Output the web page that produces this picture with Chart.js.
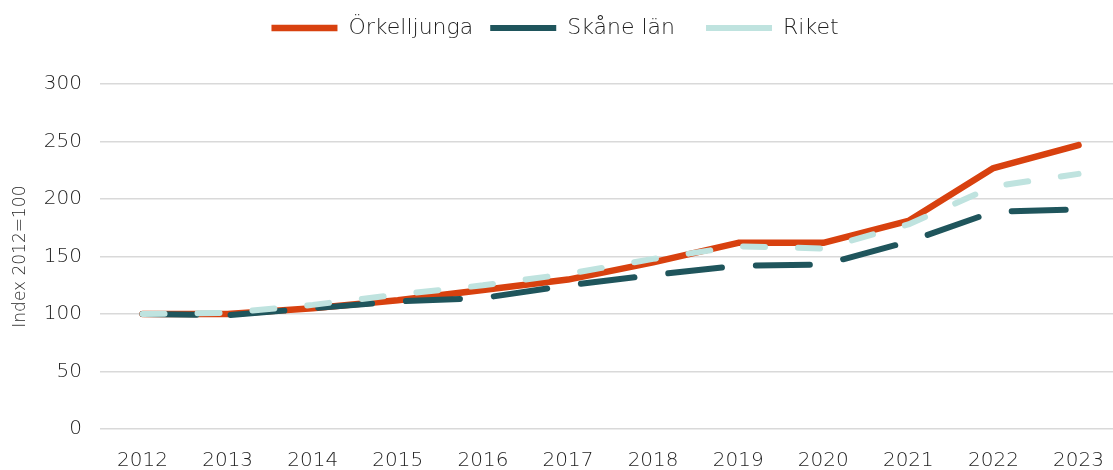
<!DOCTYPE html>
<html>
<head>
<meta charset="utf-8">
<script src="https://cdn.jsdelivr.net/npm/chart.js@4/dist/chart.umd.min.js"></script>
<style>
  html,body{margin:0;padding:0;background:#fff;overflow:hidden;}
  #wrap{width:1124px;height:470px;position:relative;}
</style>
</head>
<body>
<div id="wrap"><canvas id="c" width="1124" height="470"></canvas></div>
<script>
// data
const years = ['2012','2013','2014','2015','2016','2017','2018','2019','2020','2021','2022','2023'];
const orkelljunga = [100, 100, 105, 112, 121, 130, 145, 162, 162, 181, 227, 247];
const skane = [100, 99, 105, 111, 114, 125, 134, 142, 143, 163, 189, 191];
const riket = [100, 101, 108, 117, 125, 135, 148, 159, 157, 178, 211, 222];
const yTicks = [0, 50, 100, 150, 200, 250, 300];

const FONT = '"DejaVu Sans", sans-serif';
const W = 200;
const txt = '#1e1e1e';

const line = (label, data, color, width, dash, order) => ({
  label, data, borderColor:color, backgroundColor:color, borderWidth:width,
  borderDash:dash, borderCapStyle:'round', borderJoinStyle:'round',
  pointRadius:0, tension:0, fill:false, order
});

const chart = new Chart(document.getElementById('c'), {
  type:'line',
  data:{
    labels:years,
    datasets:[
      line('Örkelljunga', orkelljunga, '#D8410F', 6.5, [], 3),
      line('Skåne län', skane, '#1F555C', 6, [54,34], 2),
      line('Riket', riket, '#BFE3DF', 6, [22,33], 1)
    ]
  },
  options:{
    responsive:false, animation:false,
    layout:{padding:{top:0, right:0, left:0, bottom:0}},
    plugins:{
      tooltip:{enabled:false},
      legend:{
        position:'top',
        labels:{
          usePointStyle:true, pointStyle:'line', pointStyleWidth:66,
          color:txt, font:{family:FONT, size:22, weight:W}, padding:17,
          sort:(a,b)=>a.datasetIndex-b.datasetIndex,
          generateLabels(c){
            const items = Chart.defaults.plugins.legend.labels.generateLabels(c);
            items.forEach((it,i)=>{ if(i<items.length-1) it.text += '  '; });
            return items;
          }
        }
      },
      // empty title used as a spacer between legend and plot
      title:{display:true, text:'', weight:500, font:{size:1}, padding:{top:0, bottom:34}}
    },
    scales:{
      x:{
        offset:true,
        grid:{display:false, drawTicks:false},
        border:{display:false},
        ticks:{color:txt, font:{family:FONT, size:20, weight:W}, padding:20, maxRotation:0, autoSkip:false},
        afterFit(s){ s.height = 41; }
      },
      y:{
        min:0, max:300,
        afterBuildTicks(s){ s.ticks = yTicks.map(v=>({value:v})); },
        grid:{color:'#d9d9d9', lineWidth:1.5, drawTicks:false},
        border:{display:false},
        ticks:{color:txt, font:{family:FONT, size:20, weight:W}, padding:18},
        title:{display:true, text:'Index 2012=100', color:txt, font:{family:FONT, size:17, weight:W}, padding:{top:10,bottom:0}},
        afterFit(s){ s.width = 100; }
      }
    }
  }
});
</script>
</body>
</html>
